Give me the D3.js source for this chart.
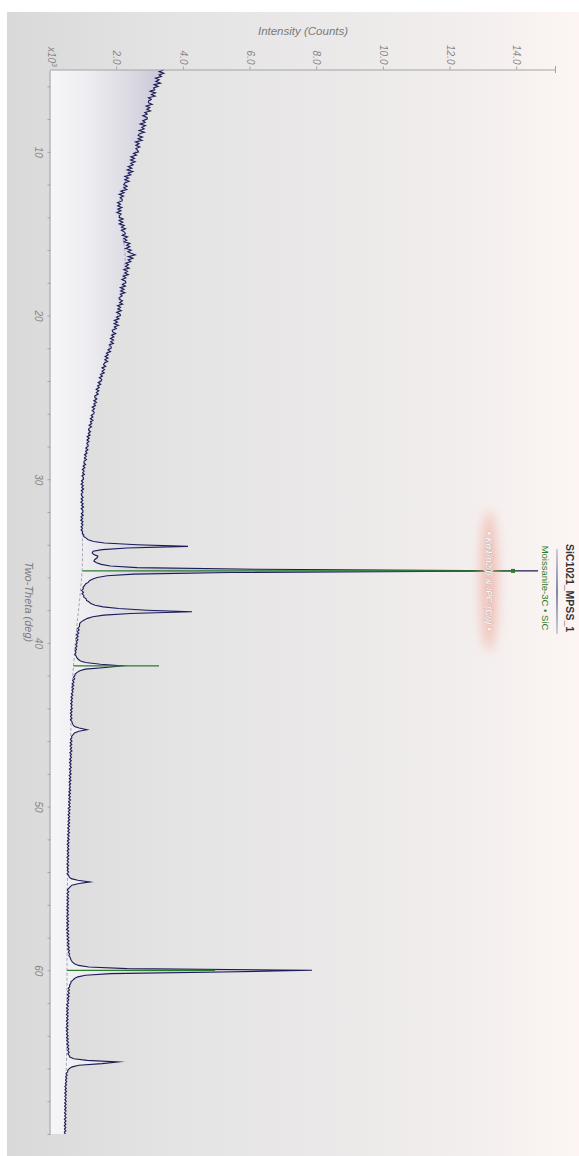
<!DOCTYPE html>
<html>
<head>
<meta charset="utf-8">
<script src="https://cdn.jsdelivr.net/npm/d3@7"></script>
<style>
  html, body { margin: 0; padding: 0; background: #ffffff; }
  svg { display: block; font-family: "Liberation Sans", Arial, sans-serif; }
</style>
</head>
<body>
<svg id="chart" width="579" height="1156"></svg>
<script>
// ---- Scan: SiC1021_MPSS_1, Cu K-alpha, two-theta 5..70 deg, 0.1 deg step ----
const scanStart = 5.0;
const scanStep = 0.1;
const counts = [
  3390, 3260, 3400, 3260, 3330, 3150, 3260, 3160, 3300, 3110, // 5
  3230, 3090, 3130, 2990, 3150, 3030, 3140, 2940, 3020, 2940, // 6
  2940, 3050, 2870, 2980, 2890, 3000, 2830, 2900, 2770, 2900, // 7
  2900, 2770, 2840, 2690, 2850, 2740, 2810, 2660, 2820, 2660, // 8
  2630, 2760, 2630, 2750, 2550, 2660, 2560, 2680, 2560, 2610, // 9
  2640, 2490, 2580, 2410, 2520, 2400, 2540, 2410, 2480, 2330, // 10
  2440, 2300, 2470, 2330, 2410, 2230, 2340, 2230, 2360, 2230, // 11
  2200, 2300, 2200, 2290, 2110, 2210, 2060, 2190, 2090, 2150, // 12
  2150, 2010, 2100, 2015, 2140, 2020, 2115, 1990, 2120, 2070, // 13
  2060, 2180, 2060, 2170, 2060, 2210, 2130, 2250, 2130, 2220, // 14
  2250, 2155, 2310, 2205, 2290, 2205, 2380, 2285, 2380, 2255, // 15
  2420, 2320, 2420, 2540, 2330, 2470, 2330, 2410, 2260, 2340, // 16
  2250, 2360, 2200, 2310, 2230, 2335, 2180, 2260, 2140, 2250, // 17
  2260, 2160, 2250, 2095, 2205, 2105, 2235, 2095, 2150, 2060, // 18
  2060, 2160, 2075, 2165, 2010, 2100, 2020, 2125, 1985, 2080, // 19
  2100, 1980, 2055, 1915, 2010, 1910, 2040, 1915, 1975, 1850, // 20
  1870, 1957, 1833, 1900, 1797, 1893, 1810, 1887, 1763, 1820, // 21
  1820, 1726, 1801, 1677, 1732, 1638, 1724, 1629, 1715, 1620, // 22
  1590, 1657, 1543, 1620, 1547, 1613, 1500, 1557, 1463, 1540, // 23
  1520, 1428, 1506, 1413, 1461, 1369, 1447, 1374, 1432, 1330, // 24
  1330, 1390, 1300, 1380, 1300, 1350, 1250, 1320, 1250, 1310, // 25
  1300, 1221, 1272, 1193, 1274, 1196, 1237, 1158, 1229, 1150, // 26
  1140, 1202, 1134, 1187, 1099, 1161, 1093, 1156, 1088, 1130, // 27
  1125, 1058, 1121, 1054, 1096, 1019, 1072, 1015, 1078, 1010, // 28
  1000, 1054,  978, 1032,  956, 1010,  964, 1018,  942,  986, // 29
   990,  929,  978,  917,  986,  935,  994,  923,  972,  921, // 30
   930,  980,  920,  970,  910,  980,  930,  990,  920,  970, // 31
   975,  925,  985,  915,  965,  905,  975,  925,  975,  915, // 32
   960,  915,  965,  950, 1000,  995, 1070, 1130, 1290, 1620, // 33
  2600, 4125, 2300, 1550, 1280, 1250, 1300, 1420, 1400, 1330, // 34
  1300, 1380, 1520, 1800, 2600, 6200,14625, 5400, 2500, 1700, // 35
  1400, 1270, 1170, 1130, 1050, 1020,  975,  985,  935,  990, // 36
   945, 1000,  995, 1070, 1080, 1160, 1210, 1340, 1580, 2050, // 37
  2900, 4245, 2400, 1600, 1270, 1110, 1010,  930,  880,  870, // 38
   870,  815,  860,  800,  845,  780,  830,  770,  825,  775, // 39
   800,  760,  795,  745,  780,  740,  765,  730,  770,  790, // 40
   830,  900, 1050, 1500, 2145, 1650, 1050,  880,  800,  740, // 41
   730,  690,  725,  665,  705,  650,  700,  640,  690,  645, // 42
   675,  625,  670,  615,  660,  610,  655,  605,  650,  615, // 43
   655,  600,  645,  595,  640,  600,  645,  595,  640,  655, // 44
   675,  720,  860, 1095,  850,  720,  680,  635,  640,  600, // 45
   645,  590,  640,  585,  635,  595,  645,  580,  630,  590, // 46
   630,  575,  625,  570,  620,  580,  625,  565,  615,  575, // 47
   620,  560,  610,  565,  615,  555,  605,  560,  600,  560, // 48
   605,  550,  600,  545,  595,  550,  600,  540,  590,  545, // 49
   590,  530,  585,  535,  580,  525,  575,  530,  575,  525, // 50
   575,  520,  570,  515,  565,  520,  570,  510,  560,  515, // 51
   560,  505,  555,  500,  550,  510,  555,  500,  545,  505, // 52
   550,  495,  545,  500,  540,  490,  545,  495,  535,  500, // 53
   545,  495,  545,  560,  620,  820, 1185,  860,  640,  590, // 54
   545,  500,  550,  495,  540,  495,  545,  490,  540,  495, // 55
   540,  490,  540,  485,  535,  495,  540,  485,  535,  490, // 56
   545,  485,  540,  490,  540,  480,  545,  490,  545,  495, // 57
   550,  500,  555,  505,  555,  505,  565,  515,  570,  535, // 58
   575,  550,  590,  600,  625,  660,  720,  840, 1150, 2300, // 59
  7845, 5200, 1800, 1050,  820,  720,  670,  615,  610,  570, // 60
   580,  530,  570,  520,  565,  510,  560,  505,  550,  505, // 61
   540,  485,  535,  480,  535,  485,  530,  480,  530,  485, // 62
   530,  475,  525,  480,  525,  470,  525,  475,  520,  480, // 63
   530,  480,  535,  485,  540,  490,  545,  500,  550,  515, // 64
   560,  520,  560,  580,  700, 1100, 2025, 1545,  850,  650, // 65
   570,  520,  515,  470,  500,  455,  490,  450,  485,  445, // 66
   480,  430,  475,  435,  480,  425,  475,  430,  470,  430, // 67
   475,  425,  470,  420,  470,  425,  468,  420,  465,  425, // 68
   468,  415,  465,  420,  462,  412,  460,  418,  458,  415, // 69
   445                                                        // 70
];

// fitted background (dashed)
const bgAngles = [5, 7, 9, 11, 12.5, 13.5, 15, 16.5, 18, 20, 22, 24, 26, 28, 30, 32, 34, 35, 37, 39, 41.4, 43, 45, 48, 50, 53, 56, 60, 63, 65, 67, 70];
const bgCounts = [3330, 2980, 2700, 2380, 2140, 2040, 2160, 2240, 2170, 2010, 1750, 1480, 1260, 1085, 960, 950, 960, 958, 890, 790, 690, 640, 615, 580, 555, 515, 505, 495, 490, 485, 455, 440];

// reference pattern: Moissanite-3C (SiC)
const stickAngles = [35.6, 41.4, 60.0];
const stickBase   = [958, 690, 495];
const stickTop    = [13875, 3255, 4935];

// axis ticks
const intensityTicks = [2000, 4000, 6000, 8000, 10000, 12000, 14000];
const thetaTicks = [6, 8, 10, 12, 14, 16, 18, 20, 22, 24, 26, 28, 30, 32, 34, 36, 38, 40,
                    42, 44, 46, 48, 50, 52, 54, 56, 58, 60, 62, 64, 66, 68, 70];
const thetaLabels = [10, 20, 30, 40, 50, 60];

const scan = counts.map((c, i) => ({ t: scanStart + i * scanStep, c: c }));
const bg = bgAngles.map((t, i) => ({ t: t, c: bgCounts[i] }));

// ---- drawing: laid out as a landscape chart, then turned a quarter clockwise ----
const svg = d3.select("#chart");
const defs = svg.append("defs");

const panelGrad = defs.append("linearGradient").attr("id", "panelGrad")
  .attr("gradientUnits", "userSpaceOnUse").attr("x1", 0).attr("y1", 572).attr("x2", 0).attr("y2", 0);
[[0, "#d9d9d9"], [0.08, "#dcdcdc"], [0.3, "#e5e4e4"], [0.55, "#eae8e8"], [0.8, "#f2eeed"], [1, "#fcf5f3"]]
  .forEach(([o, c]) => panelGrad.append("stop").attr("offset", o).attr("stop-color", c));

const x = d3.scaleLinear().domain([5, 70]).range([70, 1134]);
const y = d3.scaleLinear().domain([0, 15150]).range([528.5, 23.5]);

const fillGrad = defs.append("linearGradient").attr("id", "fillGrad")
  .attr("gradientUnits", "userSpaceOnUse").attr("x1", 0).attr("y1", y(0)).attr("x2", 0).attr("y2", y(3600));
[[0, "#f6f6f8"], [0.3, "#eeedf1"], [0.65, "#dcdbe4"], [1, "#c3c2d3"]]
  .forEach(([o, c]) => fillGrad.append("stop").attr("offset", o).attr("stop-color", c));

const ruleGrad = defs.append("linearGradient").attr("id", "ruleGrad")
  .attr("gradientUnits", "objectBoundingBox").attr("x1", 0).attr("y1", 0).attr("x2", 1).attr("y2", 0);
[[0, "#c9cfdc"], [0.5, "#7d89a8"], [1, "#c9cfdc"]]
  .forEach(([o, c]) => ruleGrad.append("stop").attr("offset", o).attr("stop-color", c));

const glow = defs.append("filter").attr("id", "glow")
  .attr("x", "-50%").attr("y", "-300%").attr("width", "200%").attr("height", "700%");
glow.append("feGaussianBlur").attr("stdDeviation", 6);

const g = svg.append("g").attr("transform", "translate(579,0) rotate(90)");

// panel background
g.append("rect").attr("x", 12).attr("y", 0).attr("width", 1144).attr("height", 572)
  .attr("fill", "url(#panelGrad)");

// area under the scan
g.append("path").datum(scan)
  .attr("d", d3.area().x(d => x(d.t)).y0(y(0)).y1(d => y(d.c)))
  .attr("fill", "url(#fillGrad)");

// background fit
g.append("path").datum(bg)
  .attr("d", d3.line().x(d => x(d.t)).y(d => y(d.c)).curve(d3.curveMonotoneX))
  .attr("fill", "none").attr("stroke", "#9d9dab").attr("stroke-width", 0.9)
  .attr("stroke-dasharray", "3,2");

// scan trace
g.append("path").datum(scan)
  .attr("d", d3.line().x(d => x(d.t)).y(d => y(d.c)))
  .attr("fill", "none").attr("stroke", "#1c1c5a").attr("stroke-width", 1.1)
  .attr("stroke-linejoin", "miter").attr("stroke-miterlimit", 30);

// reference sticks
g.selectAll("line.stick").data(stickAngles).enter().append("line")
  .attr("class", "stick")
  .attr("x1", d => x(d)).attr("x2", d => x(d))
  .attr("y1", (d, i) => y(stickBase[i])).attr("y2", (d, i) => y(stickTop[i]))
  .attr("stroke", "#2c7d2c").attr("stroke-width", 1.2);
g.append("rect")
  .attr("x", x(stickAngles[0]) - 2).attr("y", y(stickTop[0]) - 2)
  .attr("width", 4).attr("height", 4).attr("fill", "#2c7d2c");

// axes
const axisColor = "#a3a3a3", labelColor = "#858585";
const yAxis = d3.axisLeft(y).tickValues(intensityTicks)
  .tickFormat(d => (d / 1000).toFixed(1)).tickSize(3).tickPadding(2).tickSizeOuter(0);
const yg = g.append("g").attr("transform", "translate(69.5,0)").call(yAxis);
yg.append("line").attr("x1", -3.5).attr("x2", 3.5).attr("y1", y(15150)).attr("y2", y(15150))
  .attr("stroke", axisColor);

const xAxis = d3.axisBottom(x).tickValues(thetaTicks)
  .tickFormat(d => thetaLabels.includes(d) ? d : "").tickSize(3).tickPadding(5).tickSizeOuter(0);
const xg = g.append("g").attr("transform", `translate(0,${y(0)})`).call(xAxis);

[yg, xg].forEach(a => {
  a.select(".domain").attr("stroke", axisColor);
  a.selectAll(".tick line").attr("stroke", axisColor);
  a.selectAll(".tick text").attr("fill", labelColor).attr("font-size", 10)
    .attr("font-style", "italic").attr("font-family", "Liberation Sans, Arial, sans-serif");
});

// multiplier at the origin
const mult = g.append("text").attr("x", 67).attr("y", 531).attr("text-anchor", "end")
  .attr("fill", labelColor).attr("font-size", 10).attr("font-style", "italic");
mult.append("tspan").text("x10");
mult.append("tspan").attr("dy", -4).attr("font-size", 7).text("3");

// axis titles
g.append("text").attr("transform", `translate(35,${(y(0) + y(15150)) / 2}) rotate(-90)`)
  .attr("text-anchor", "middle").attr("fill", "#7a7a7a").attr("font-size", 11.5)
  .attr("font-style", "italic").text("Intensity (Counts)");
g.append("text").attr("x", (x(5) + x(70)) / 2).attr("y", 554)
  .attr("text-anchor", "middle").attr("fill", "#7a7a7a").attr("font-size", 11)
  .attr("font-style", "italic").text("Two-Theta (deg)");

// title and phase legend
g.append("text").attr("x", 588).attr("y", 13).attr("text-anchor", "middle")
  .attr("fill", "#333333").attr("font-size", 10.5).attr("font-weight", "bold").text("SiC1021_MPSS_1");
g.append("rect").attr("x", 549).attr("y", 21).attr("width", 85).attr("height", 2)
  .attr("fill", "url(#ruleGrad)");
g.append("text").attr("x", 588).attr("y", 37).attr("text-anchor", "middle")
  .attr("fill", "#2c7d2c").attr("font-size", 9.5).text("Moissanite-3C \u2022 SiC");

g.append("ellipse").attr("cx", 581).attr("cy", 90).attr("rx", 70).attr("ry", 8)
  .attr("fill", "#f19b8d").attr("opacity", 0.6).attr("filter", "url(#glow)");
g.append("text").attr("x", 581).attr("y", 93).attr("text-anchor", "middle")
  .attr("font-size", 9.5).attr("font-style", "italic")
  .attr("fill", "#ffffff").attr("stroke", "#b9a9a7").attr("stroke-width", 0.6)
  .attr("paint-order", "stroke")
  .text("\u2022 K\u03b11/\u03b12/\u03b2 & IPC (Cu) \u2022");
</script>
</body>
</html>
